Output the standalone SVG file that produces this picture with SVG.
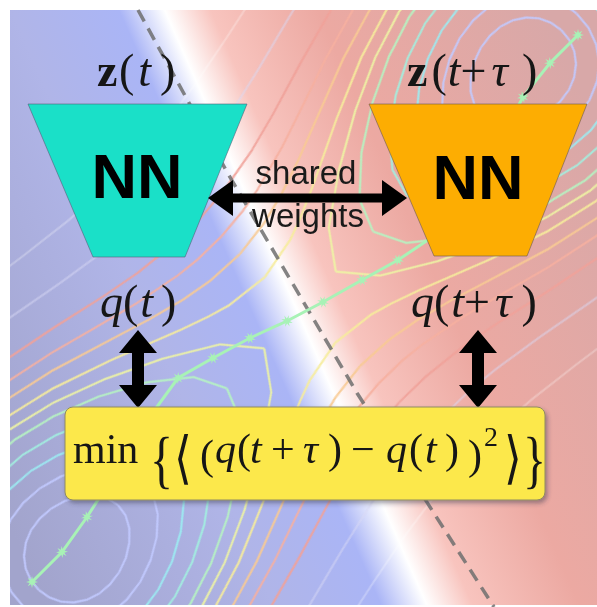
<svg xmlns="http://www.w3.org/2000/svg" width="597" height="607" viewBox="0 0 597 607">
<defs>
  <linearGradient id="bg" gradientUnits="userSpaceOnUse" x1="-24" y1="449" x2="616" y2="167">
    <stop offset="0" stop-color="#a2a4cc"/>
    <stop offset="0.3" stop-color="#b0b5e8"/>
    <stop offset="0.44" stop-color="#aab5f6"/>
    <stop offset="0.5" stop-color="#ffffff"/>
    <stop offset="0.56" stop-color="#f8c4be"/>
    <stop offset="0.7" stop-color="#eca9a2"/>
    <stop offset="1" stop-color="#d8a8a8"/>
  </linearGradient>
  <clipPath id="panel"><rect x="10" y="10" width="587" height="595"/></clipPath>
  <marker id="star" viewBox="-7 -7 14 14" markerWidth="14" markerHeight="14" markerUnits="userSpaceOnUse" refX="0" refY="0" orient="auto">
    <polygon fill="#a8f2b6" points="6,0 2.31,0.96 4.24,4.24 0.96,2.31 0,6 -0.96,2.31 -4.24,4.24 -2.31,0.96 -6,0 -2.31,-0.96 -4.24,-4.24 -0.96,-2.31 0,-6 0.96,-2.31 4.24,-4.24 2.31,-0.96"/>
  </marker>
  <filter id="shadow" x="-10%" y="-10%" width="120%" height="130%">
    <feDropShadow dx="2" dy="3" stdDeviation="2" flood-color="#3a3a50" flood-opacity="0.45"/>
  </filter>
  <g id="quad">
    <path class="ct lav" d="M382.9,0 L381.2,12.5 L376.3,24.1 L368.2,34 L357.4,41.7 L344.5,46.5 L330,48.2 L314.9,46.5 L300.1,41.7 L286.8,34 L276.1,24.1 L269.2,12.5 L266.8,0"/>
    <path class="ct lav" d="M405.5,0 L403.2,18.3 L396.2,35.5 L384.9,50.1 L369.7,61.4 L351.1,68.5 L330,70.9 L307.5,68.5 L284.8,61.4 L263.9,50.1 L246.6,35.5 L235.1,18.3 L231,0"/>
    <path class="ct cy" d="M423.6,0 L420.8,23.3 L412.3,45.1 L398.5,63.7 L379.7,78 L356.6,87 L330,90.1 L301.1,87 L271.3,78 L242.9,63.7 L218.6,45.1 L201.8,23.3 L195.8,0"/>
    <path class="ct cy2" d="M439.6,0 L436.3,27.9 L426.6,53.9 L410.5,76.2 L388.7,93.3 L361.6,104 L330,107.7 L295.1,104 L258.3,93.3 L221.9,76.2 L189.3,53.9 L165.6,27.9 L156.7,0"/>
    <path class="ct gr" d="M454.2,0 L450.5,32.2 L439.6,62.2 L421.6,87.9 L397,107.6 L366.2,120.1 L330,124.3 L289.3,120.1 L245.4,107.6 L200.1,87.9 L156.7,62.2 L121.7,32.2 L107.2,0"/>
    <path class="ct ye" d="M463.7,0 L459.8,35.1 L448.1,67.8 L428.9,95.8 L402.5,117.3 L369.3,130.9 L330,135.5 L285.4,130.9 L236.3,117.3 L184,95.8 L130.3,67.8 L79.8,35.1 L52.5,0"/>
    <path class="ct ye2" d="M473.5,0 L469.3,38.1 L456.9,73.6 L436.3,104 L408.1,127.4 L372.5,142.1 L330,147.1 L281.2,142.1 L226.4,127.4 L165.6,104 L95.4,73.6 L66.7,62.2 L45.1,55.1 L0,48.2"/>
    <path class="ct or" d="M485.2,0 L480.7,41.8 L467.4,80.8 L445.4,114.2 L414.9,139.9 L376.4,156 L330,161.5 L275.9,156 L213.6,139.9 L139.4,114.2 L109.4,103.8 L72.4,92.6 L40,85.6 L0,82.2"/>
    <path class="ct pk" d="M496.6,0 L491.9,45.5 L477.7,87.9 L454.2,124.3 L421.6,152.2 L380.2,169.8 L330,175.8 L270.6,169.8 L200.1,152.2 L155.2,138.5 L107.2,124.3 L58.2,113 L33.2,109.4 L0,107.7"/>
    <path class="ct pk2" d="M510.8,0 L505.8,50.2 L490.5,97.1 L465.2,137.3 L430,168.1 L385,187.5 L330,194.1 L263.7,187.5 L181.3,168.1 L123.6,153 L84.5,144.2 L37,137.3 L0,135.5"/>
    <path class="ct hi" d="M533.4,0 L527.7,58 L510.8,112.1 L482.8,158.5 L443.5,194.1 L392.9,216.5 L330,224.1 L251.9,216.5 L207.7,207.8 L145.3,194.1 L90.4,183.6 L56.8,179 L0,175.8"/>
    <path class="ct hi2" d="M561.7,0 L555.4,68.2 L536.5,131.9 L505,186.5 L460.7,228.4 L403,254.7 L330,263.7 L283.1,261.1 L235.4,254.7 L146.9,239 L93.4,230.6 L49.8,226 L0,224.1"/>
  </g>
</defs>
<style>
  .ct{fill:none;stroke-width:2.2;stroke-linejoin:round}
  .lav{stroke:#c2caff}
  .cy{stroke:#9cecf2}
  .cy2{stroke:#a2f0e0}
  .gr{stroke:#b6f4c2}
  .ye{stroke:#eef4a4}
  .ye2{stroke:#f6ec9c}
  .or{stroke:#f8ca94}
  .pk{stroke:#f6b0a0}
  .pk2{stroke:#f0a29a}
  .hi{stroke:#d8d8f4;opacity:0.55}
  .hi2{stroke:#ffffff;opacity:0.3}
  .math{font-family:"Liberation Serif","DejaVu Serif",serif;fill:#161616}
  .delim{font-family:"DejaVu Sans",sans-serif;fill:#161616;font-size:57px}
  .it{font-style:italic}
  .nn{font-family:"Liberation Sans",Arial,sans-serif;font-weight:bold;font-size:63px;fill:#000;text-anchor:middle}
  .sw{font-family:"Liberation Sans",Arial,sans-serif;font-size:33px;fill:#1a1a1a;text-anchor:middle}
  .arrow{fill:#000}
</style>

<rect x="0" y="0" width="597" height="607" fill="#ffffff"/>
<rect x="10" y="10" width="587" height="595" fill="url(#bg)"/>

<g id="contours" clip-path="url(#panel)" opacity="0.9">
  <g transform="translate(300,310) rotate(-47)">
    <use href="#quad"/>
    <use href="#quad" transform="scale(-1,1)"/>
    <use href="#quad" transform="scale(1,-1)"/>
    <use href="#quad" transform="scale(-1,-1)"/>
  </g>
</g>

<path id="divider" d="M138,10 L227,172 L357,393 L494,607" fill="none" stroke="#6e6e6e" stroke-width="3.5" stroke-dasharray="13,8" opacity="0.85"/>

<polyline id="trajectory" fill="none" stroke="#a8f2b6" stroke-width="3" marker-start="url(#star)" marker-mid="url(#star)" marker-end="url(#star)"
  points="32,582 62,552 87,517 112,478 140,430 178,378 213,358 250,338 287,321 323,302 362,280 398,260 440,232 470,190 500,140 523,97 550,63 578,35"/>

<g id="nn-left">
  <polygon points="28,104 247,104 185,257 93,257" fill="#1ae0c8" stroke="#55607a" stroke-width="1" stroke-opacity="0.6"/>
  <text class="nn" x="137" y="198">NN</text>
</g>

<g id="nn-right">
  <polygon points="369,104 587,104 527,256 434,256" fill="#fdad02" stroke="#6a5a50" stroke-width="1" stroke-opacity="0.6"/>
  <text class="nn" x="478" y="199">NN</text>
</g>

<g id="label-zt">
  <text class="math" font-size="46" x="97" y="86"><tspan font-weight="bold">z</tspan><tspan dx="1.5">(</tspan><tspan dx="4" class="it">t</tspan><tspan dx="9">)</tspan></text>
</g>
<g id="label-ztt">
  <text class="math" font-size="46" x="407" y="86"><tspan font-weight="bold">z</tspan><tspan dx="4">(</tspan><tspan dx="1" class="it">t</tspan><tspan>+</tspan><tspan dx="5" class="it">τ</tspan><tspan dx="14">)</tspan></text>
</g>
<g id="label-qt">
  <text class="math" font-size="46" x="100" y="317"><tspan class="it">q</tspan><tspan>(</tspan><tspan dx="2" class="it">t</tspan><tspan dx="8">)</tspan></text>
</g>
<g id="label-qtt">
  <text class="math" font-size="46" x="411" y="317"><tspan class="it">q</tspan><tspan>(</tspan><tspan dx="2" class="it">t</tspan><tspan>+</tspan><tspan dx="5" class="it">τ</tspan><tspan dx="10">)</tspan></text>
</g>

<g id="shared-weights">
  <text class="sw" x="306" y="184">shared</text>
  <text class="sw" x="308" y="227">weights</text>
</g>

<g id="connectors">
  <polygon class="arrow" points="208,198 233,180 233,193.5 382,193.5 382,180 407,198 382,216 382,202.5 233,202.5 233,216"/>
  <polygon class="arrow" points="138,330 157,353 144,353 144,385 157,385 138,408 119,385 132,385 132,353 119,353"/>
  <polygon class="arrow" points="478,330 497,353 484,353 484,385 497,385 478,408 459,385 472,385 472,353 459,353"/>
</g>

<g id="loss">
  <rect x="65" y="407" width="480" height="93" rx="8" ry="8" fill="#fce84c" stroke="#8f8a62" stroke-width="1" filter="url(#shadow)"/>
  <text class="math" font-size="42" y="463"><tspan x="73">min</tspan><tspan x="215" class="it">q</tspan><tspan x="237">(</tspan><tspan x="250" class="it">t</tspan><tspan x="271">+</tspan><tspan x="303" class="it">τ</tspan><tspan x="328">)</tspan><tspan x="351">−</tspan><tspan x="386" class="it">q</tspan><tspan x="409">(</tspan><tspan x="425" class="it">t</tspan><tspan x="445">)</tspan></text>
  <text class="math" font-size="42" x="200" y="469">(</text>
  <text class="math" font-size="42" x="468" y="469">)</text>
  <text class="math" font-size="28" x="484" y="446">2</text>
  <text class="math" font-size="64" transform="translate(150,481) scale(0.75,1)">{</text>
  <text class="math" font-size="64" transform="translate(523,481) scale(0.75,1)">}</text>
  <text class="delim" transform="translate(174,477) scale(0.8,1)">⟨</text>
  <text class="delim" transform="translate(504,477) scale(0.8,1)">⟩</text>
</g>
</svg>
